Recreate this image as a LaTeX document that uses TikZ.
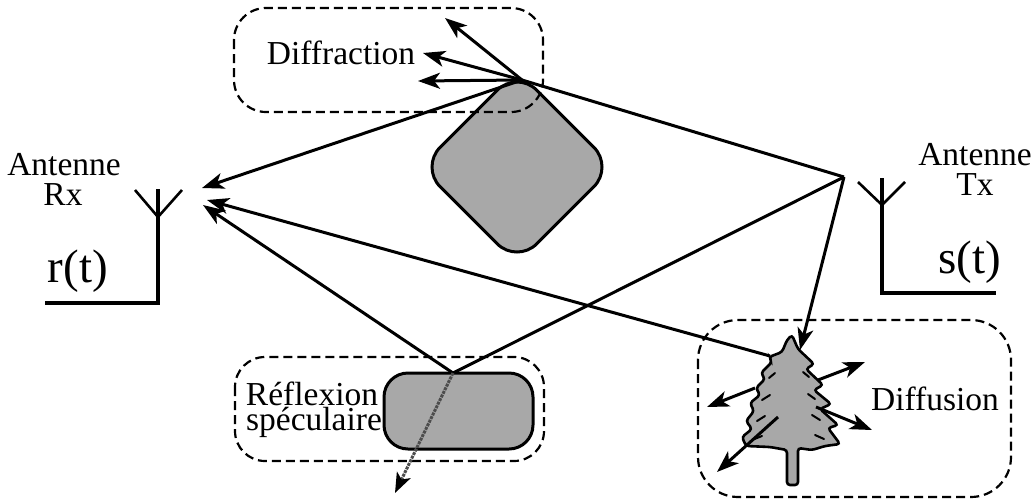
\documentclass[tikz,border=0pt]{standalone}
\usepackage{fontspec}
\setmainfont{Liberation Serif}
\usetikzlibrary{arrows.meta}
\definecolor{obst}{RGB}{168,168,168}
\begin{document}
\begin{tikzpicture}[x=1pt,y=-1pt,
  ray/.style={line width=3pt},
  rayarrow/.style={ray,-{Stealth[length=22pt,width=16pt,inset=6pt]}},
  zone/.style={line width=2.2pt,dash pattern=on 9pt off 5pt},
  obstacle/.style={fill=obst,draw=black,line width=3pt},
  lbl/.style={font=\fontsize{33.5}{36}\selectfont,inner sep=0pt,anchor=base},
  sig/.style={font=\fontsize{47}{50}\selectfont,inner sep=0pt,anchor=base},
  stem/.style={line width=4.5pt},
  arm/.style={line width=2.6pt}]
\useasboundingbox (0,0) rectangle (1035,501);

% ---- key points of the propagation paths
\coordinate (tx)   at (844,177);
\coordinate (dif)  at (522,80);
\coordinate (refl) at (453,373);
\coordinate (sink) at (395,493);
\coordinate (rxA)  at (202,188);
\coordinate (rxB)  at (207,200);
\coordinate (rxC)  at (203,205);
\coordinate (treeIn)  at (800,350);
\coordinate (treeOut) at (770,356);
\coordinate (dA) at (445,18);
\coordinate (dB) at (423,53);
\coordinate (dC) at (418,81);

% ---- diffracting obstacle (rounded square on its corner)
\draw[obstacle, rounded corners=28pt]
  (517,70.4) -- (613.6,167) -- (517,263.6) -- (420.4,167) -- cycle;
\draw[zone, rounded corners=32pt] (234,8) rectangle (543,112);
\node[lbl] (difftxt) at (341,64) {Diffraction};

% ---- reflecting surface
\draw[zone, rounded corners=30pt] (235,357) rectangle (544,461);
\draw[obstacle, rounded corners=24pt] (384,373) rectangle (533,449);
\node[lbl] (refl1) at (312,405) {Réflexion};
\node[lbl] (refl2) at (314,430) {spéculaire};

% ---- scattering tree
\draw[zone, rounded corners=40pt] (698,320) rectangle (1011,497);
\draw[obstacle, line width=2.6pt, rounded corners=3pt]
  (792,335) -- (798,349) -- (814,364) -- (806,369) -- (823,385) -- (814,390)
  -- (831,404) -- (820,409) -- (838,425) -- (828,428) -- (840,444) -- (825,446)
  -- (812,450) -- (798,448) -- (798,485) -- (787,485) -- (787,450) -- (770,447)
  -- (746,446) -- (742,437) -- (752,429) -- (746,421) -- (754,411) -- (750,403)
  -- (760,395) -- (756,388) -- (765,379) -- (761,373) -- (772,362) -- (769,357)
  -- (782,352) -- (787,340) -- cycle;
% needle shading on the branches
\begin{scope}[line width=2pt, line cap=round]
  \draw (803,372) -- (809,377);
  \draw (808,394) -- (815,399);
  \draw (812,415) -- (820,420);
  \draw (815,435) -- (824,439);
  \draw (775,373) -- (769,378);
  \draw (770,395) -- (762,400);
  \draw (765,416) -- (757,421);
  \draw (762,436) -- (752,440);
\end{scope}
\node[lbl] (difftree) at (935,410) {Diffusion};

% ---- antennas
\draw[stem] (158,189) -- (158,303) -- (45,303);
\draw[arm] (135,190) -- (158,217) -- (182,190);
\node[lbl] (antrx) at (64,175) {Antenne};
\node[lbl] (rx) at (63,205) {Rx};
\node[sig] (rt) at (78,282) {r(t)};

\draw[stem] (882,178) -- (882,293) -- (996,293);
\draw[arm] (858,182) -- (882,205) -- (905,182);
\node[lbl] (anttx) at (975,165) {Antenne};
\node[lbl] (txl) at (975,195) {Tx};
\node[sig] (st) at (970,273) {s(t)};

% ---- rays
\draw[ray] (tx) -- (dif);
\draw[rayarrow] (dif) -- (rxA);
\draw[rayarrow] (dif) -- (dA);
\draw[rayarrow] (dif) -- (dB);
\draw[rayarrow] (dif) -- (dC);

\draw[ray] (tx) -- (refl);
\draw[rayarrow] (refl) -- (rxC);
\draw[line width=3pt, densely dotted, color=gray!60!black,
  -{Stealth[black,length=20pt,width=15pt,inset=5pt]}] (refl) -- (sink);

\draw[rayarrow] (tx) -- (treeIn);
\draw[rayarrow] (treeOut) -- (rxB);
\draw[rayarrow] (755,388) -- (707,407);
\draw[rayarrow] (818,380) -- (865,362);
\draw[rayarrow] (816,407) -- (872,430);
\draw[rayarrow] (778,417) -- (717,472);
\end{tikzpicture}
\end{document}
